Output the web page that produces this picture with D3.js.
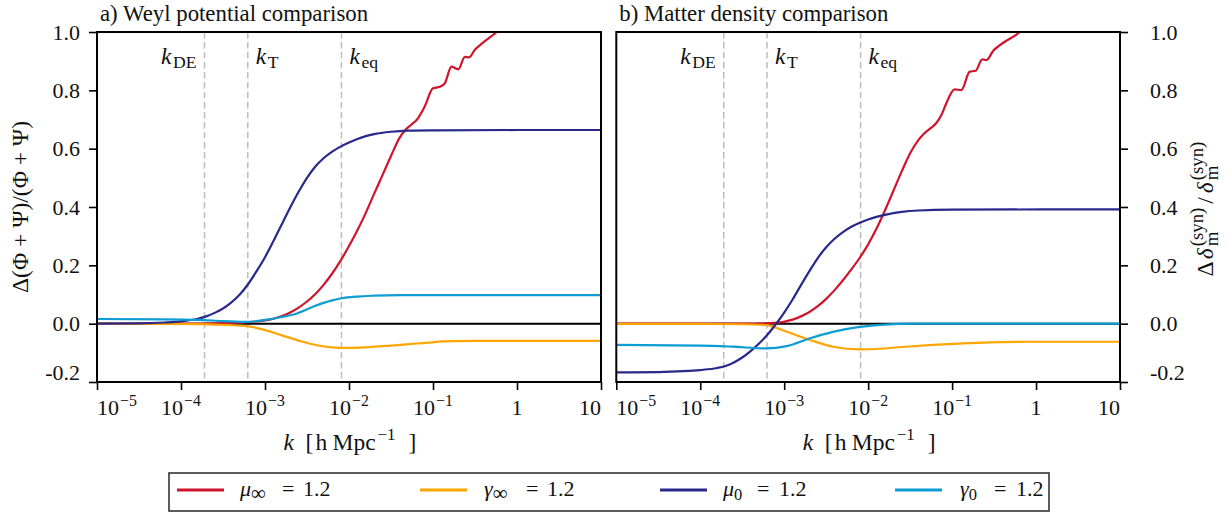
<!DOCTYPE html>
<html><head><meta charset="utf-8">
<script src="https://cdn.jsdelivr.net/npm/d3@7"></script>
<style>
html,body{margin:0;padding:0;background:#fff;}
svg{display:block;}
</style></head>
<body>
<svg id="chart" width="1231" height="517"></svg>
<script>
// ---------- data (x given as log10 of k [h/Mpc]) ----------
const xTickExps = [-5, -4, -3, -2, -1, 0, 1];
const yTicks = [-0.2, 0.0, 0.2, 0.4, 0.6, 0.8, 1.0];
const scaleMarks = [{name: "DE", lk: -3.72}, {name: "T", lk: -3.205}, {name: "eq", lk: -2.09}];
const seriesNames = ["μ∞ = 1.2", "γ∞ = 1.2", "μ0 = 1.2", "γ0 = 1.2"];
const seriesColors = ["#d0142c", "#ffa500", "#28298c", "#0b9dd3"];

// Panel a) Weyl potential
const weylMuInfLk = [-5, -4, -3.5, -3.2, -3.0, -2.9, -2.8, -2.7, -2.6, -2.5, -2.4, -2.3, -2.2, -2.1, -2.0, -1.9, -1.8, -1.7, -1.6, -1.5, -1.4, -1.33, -1.26, -1.19, -1.1, -1.0, -0.92, -0.86, -0.78, -0.7, -0.62, -0.57, -0.5, -0.44, -0.24, 0, 0.5, 1];
const weylMuInf = [0, 0, 0.002, 0.005, 0.011, 0.017, 0.026, 0.038, 0.055, 0.076, 0.102, 0.134, 0.172, 0.216, 0.266, 0.32, 0.38, 0.446, 0.51, 0.575, 0.636, 0.664, 0.682, 0.7, 0.744, 0.807, 0.812, 0.824, 0.881, 0.872, 0.915, 0.913, 0.94, 0.955, 1.0, 1.06, 1.15, 1.25];
const weylGamInfLk = [-5, -4, -3.6, -3.2, -3.0, -2.8, -2.6, -2.4, -2.2, -2.0, -1.8, -1.5, -1.2, -1.0, -0.9, -0.5, 0, 1];
const weylGamInf = [0, -0.001, -0.003, -0.009, -0.022, -0.04, -0.058, -0.073, -0.081, -0.083, -0.081, -0.075, -0.068, -0.064, -0.061, -0.059, -0.059, -0.059];
const weylMu0Lk = [-5, -4.5, -4.2, -4.0, -3.8, -3.7, -3.6, -3.5, -3.4, -3.3, -3.2, -3.1, -3.0, -2.9, -2.8, -2.7, -2.6, -2.5, -2.4, -2.3, -2.2, -2.1, -2.0, -1.9, -1.8, -1.7, -1.5, -1.3, -1.0, 0, 1];
const weylMu0 = [0, 0.001, 0.004, 0.008, 0.017, 0.025, 0.037, 0.052, 0.073, 0.1, 0.136, 0.18, 0.228, 0.283, 0.341, 0.398, 0.452, 0.5, 0.539, 0.568, 0.59, 0.607, 0.621, 0.633, 0.643, 0.65, 0.658, 0.662, 0.663, 0.664, 0.664];
const weylGam0Lk = [-5, -4.2, -3.8, -3.5, -3.2, -3.02, -2.82, -2.62, -2.43, -2.2, -2.09, -1.9, -1.7, -1.4, -1, 1];
const weylGam0 = [0.016, 0.015, 0.013, 0.009, 0.006, 0.012, 0.022, 0.035, 0.058, 0.08, 0.087, 0.093, 0.096, 0.098, 0.098, 0.098];

// Panel b) Matter density
const matMuInfLk = [-5, -4, -3.5, -3.1, -2.9, -2.8, -2.7, -2.6, -2.5, -2.4, -2.3, -2.2, -2.1, -2.0, -1.9, -1.8, -1.7, -1.6, -1.5, -1.4, -1.35, -1.27, -1.19, -1.12, -1.07, -0.97, -0.89, -0.79, -0.72, -0.64, -0.59, -0.51, -0.43, -0.19, 0, 0.5, 1];
const matMuInf = [0, 0, 0, 0.003, 0.014, 0.025, 0.04, 0.06, 0.085, 0.115, 0.149, 0.186, 0.226, 0.272, 0.326, 0.388, 0.455, 0.522, 0.584, 0.63, 0.647, 0.667, 0.687, 0.72, 0.755, 0.803, 0.801, 0.864, 0.867, 0.906, 0.904, 0.936, 0.955, 1.0, 1.05, 1.14, 1.24];
const matGamInfLk = [-5, -4, -3.5, -3.21, -2.97, -2.69, -2.42, -2.1, -1.86, -1.6, -1.23, -0.8, -0.43, 0, 1];
const matGamInf = [-0.001, -0.001, -0.002, -0.005, -0.028, -0.056, -0.079, -0.088, -0.086, -0.08, -0.073, -0.067, -0.063, -0.062, -0.062];
const matMu0Lk = [-5, -4.5, -4.2, -4.0, -3.8, -3.7, -3.6, -3.5, -3.4, -3.3, -3.2, -3.1, -3.0, -2.9, -2.8, -2.7, -2.6, -2.5, -2.4, -2.3, -2.2, -2.1, -2.0, -1.9, -1.8, -1.6, -1.4, -1, 1];
const matMu0 = [-0.167, -0.166, -0.163, -0.159, -0.152, -0.145, -0.133, -0.116, -0.094, -0.068, -0.038, -0.002, 0.038, 0.083, 0.132, 0.18, 0.225, 0.262, 0.291, 0.314, 0.332, 0.346, 0.357, 0.366, 0.373, 0.383, 0.388, 0.391, 0.392];
const matGam0Lk = [-5, -4, -3.61, -3.21, -2.97, -2.69, -2.42, -2.1, -1.8, -1.5, 1];
const matGam0 = [-0.073, -0.075, -0.079, -0.085, -0.077, -0.05, -0.028, -0.011, -0.003, 0, 0];

// ---------- font selection ----------
function fontAvailable(name) {
  const c = document.createElement("canvas").getContext("2d");
  const s = "abcdefghijklmnopqrstuvwxyz0123456789WMΔΦΨ";
  return ["monospace", "sans-serif"].some(fb => {
    c.font = `40px ${fb}`; const w0 = c.measureText(s).width;
    c.font = `40px "${name}", ${fb}`; const w1 = c.measureText(s).width;
    return Math.abs(w0 - w1) > 0.5;
  });
}
const fontCandidates = ["Liberation Serif", "DejaVu Serif", "Noto Serif", "FreeSerif", "Times New Roman"];
const FONT = fontCandidates.find(fontAvailable) || "serif";
const FN = 22;     // numbers
const FT = 23.5;   // words / symbols

// ---------- layout ----------
const svg = d3.select("#chart").style("font-family", `"${FONT}", serif`);
const yTop = 32, yBot = 382;
const panels = [
  {x0: 97, x1: 601, title: "a) Weyl potential comparison", yAxis: "left",
   series: [[weylMuInfLk, weylMuInf], [weylGamInfLk, weylGamInf], [weylMu0Lk, weylMu0], [weylGam0Lk, weylGam0]]},
  {x0: 616.3, x1: 1120, title: "b) Matter density comparison", yAxis: "right",
   series: [[matMuInfLk, matMuInf], [matGamInfLk, matGamInf], [matMu0Lk, matMu0], [matGam0Lk, matGam0]]}
];
const y = d3.scaleLinear().domain([-0.2, 1.0]).range([yBot, yTop]);

// rich text helper: parts laid out horizontally; {t, s, dy, it, gap, at, stack:[...]}
function rich(parent, x, yb, parts, anchor, baseSize) {
  const g = parent.append("g");
  const inner = g.append("g");
  let cx = 0;
  function put(p, at) {
    const t = inner.append("text").attr("x", at).attr("y", p.dy || 0)
      .attr("font-size", (p.s || 1) * baseSize)
      .attr("font-style", p.it ? "italic" : "normal")
      .attr("fill", "#111")
      .style("white-space", "pre")
      .text(p.t);
    return t.node().getComputedTextLength();
  }
  parts.forEach(p => {
    if (p.at !== undefined) cx = p.at;
    if (p.stack) {
      const w = Math.max(...p.stack.map(q => put(q, cx)));
      cx += w + (p.gap || 0);
    } else {
      cx += put(p, cx) + (p.gap || 0);
    }
  });
  const off = anchor === "middle" ? -cx / 2 : anchor === "end" ? -cx : 0;
  inner.attr("transform", `translate(${off},0)`);
  g.attr("transform", `translate(${x},${yb})`);
  return g;
}

panels.forEach((P, pi) => {
  const x = d3.scaleLog().domain([1e-5, 10]).range([P.x0, P.x1]);
  const g = svg.append("g");
  const clipId = "clip" + pi;
  svg.append("clipPath").attr("id", clipId).append("rect")
    .attr("x", P.x0).attr("y", yTop).attr("width", P.x1 - P.x0).attr("height", yBot - yTop);

  // dashed scale lines
  scaleMarks.forEach(m => {
    const xx = x(Math.pow(10, m.lk));
    g.append("line").attr("x1", xx).attr("x2", xx).attr("y1", yTop).attr("y2", yBot)
      .attr("stroke", "#bdbdbd").attr("stroke-width", 1.5).attr("stroke-dasharray", "6.5,3.5");
    const parts = [{t: "k", it: true, gap: 1.5}, {t: m.name, s: 0.75, dy: 4}];
    if (m.name === "DE") rich(g, xx - 8, 64, parts, "end", FT);
    else rich(g, xx + 8, 64, parts, "start", FT);
  });

  // zero line
  g.append("line").attr("x1", P.x0).attr("x2", P.x1).attr("y1", y(0)).attr("y2", y(0))
    .attr("stroke", "#000").attr("stroke-width", 2);

  // series
  const line = d3.line().x(d => x(Math.pow(10, d[0]))).y(d => y(d[1])).curve(d3.curveMonotoneX);
  const lg = g.append("g").attr("clip-path", `url(#${clipId})`);
  P.series.forEach((s, si) => {
    const pts = s[0].map((lk, i) => [lk, s[1][i]]);
    lg.append("path").attr("d", line(pts)).attr("fill", "none")
      .attr("stroke", seriesColors[si]).attr("stroke-width", 2.2)
      .attr("stroke-linejoin", "round").attr("stroke-linecap", "round");
  });

  // frame
  g.append("rect").attr("x", P.x0).attr("y", yTop).attr("width", P.x1 - P.x0).attr("height", yBot - yTop)
    .attr("fill", "none").attr("stroke", "#000").attr("stroke-width", 2);

  // x axis
  const xa = g.append("g").attr("transform", `translate(0,${yBot})`)
    .call(d3.axisBottom(x).tickValues(xTickExps.map(e => Math.pow(10, e))).tickSize(8).tickFormat(() => ""));
  xa.select(".domain").remove();
  xa.selectAll(".tick line").attr("stroke", "#000").attr("stroke-width", 1.6);
  xa.selectAll(".tick text").remove();
  xTickExps.forEach((e, i) => {
    const xx = x(Math.pow(10, e));
    let parts;
    if (e === 0) parts = [{t: "1"}];
    else if (e === 1) parts = [{t: "10"}];
    else parts = [{t: "10", gap: 1}, {t: "−" + Math.abs(e), s: 0.72, dy: -9}];
    const anchor = i === 0 ? "start" : (i === xTickExps.length - 1 ? "end" : "middle");
    rich(g, xx, 415, parts, anchor, FN);
  });

  // y axis
  const yAxisGen = (P.yAxis === "left" ? d3.axisLeft(y) : d3.axisRight(y))
    .tickValues(yTicks).tickSize(8).tickPadding(8).tickFormat(v => v.toFixed(1));
  const ya = g.append("g").attr("transform", `translate(${P.yAxis === "left" ? P.x0 : P.x1},0)`).call(yAxisGen);
  ya.select(".domain").remove();
  ya.selectAll(".tick line").attr("stroke", "#000").attr("stroke-width", 1.6);
  ya.selectAll(".tick text").attr("font-size", FN).attr("fill", "#111")
    .attr("font-family", `"${FONT}", serif`)
    .attr("dy", d => d < -0.1 ? "-0.1em" : "0.32em");
  if (P.yAxis === "right") ya.selectAll(".tick text").attr("x", 30).attr("text-anchor", "start");
  else ya.selectAll(".tick text").attr("x", -17);

  // title
  g.append("text").attr("x", P.x0 + 3).attr("y", 20.5).attr("font-size", 22.8).attr("fill", "#111").text(P.title);

  // x label
  rich(g, (P.x0 + P.x1) / 2 + 1, 450, [
    {t: "k", it: true}, {t: "[", at: 22}, {t: "h", at: 32}, {t: "Mpc", at: 49},
    {t: "−1", s: 0.72, dy: -10, at: 94}, {t: "]", at: 125}
  ], "middle", FT);
});

// y labels
const ylL = svg.append("g").attr("transform", "translate(28,207) rotate(-90)");
rich(ylL, 0, 0, [{t: "Δ(Φ + Ψ)/(Φ + Ψ)"}], "middle", FT);
const ylR = svg.append("g").attr("transform", "translate(1213,209) rotate(-90)");
rich(ylR, 0, 0, [
  {t: "Δ", gap: 2}, {t: "δ", it: true, gap: 2},
  {stack: [{t: "(syn)", s: 0.8, dy: -10}, {t: "m", s: 0.8, dy: 5}], gap: 4},
  {t: "/", gap: 4}, {t: "δ", it: true, gap: 2},
  {stack: [{t: "(syn)", s: 0.8, dy: -10}, {t: "m", s: 0.8, dy: 5}]}
], "middle", FT);

// legend
const leg = svg.append("g");
leg.append("rect").attr("x", 169).attr("y", 473).attr("width", 880).attr("height", 38)
  .attr("fill", "#fff").attr("stroke", "#333").attr("stroke-width", 1.6);
const legLineX = [177, 420, 660, 895];
const legTextX = [240, 484, 723, 960];
const legParts = [
  [{t: "μ", it: true}, {t: "∞", s: 0.95, dy: 4}, {t: "=", at: 42}, {t: "1.2", at: 63}],
  [{t: "γ", it: true}, {t: "∞", s: 0.95, dy: 4}, {t: "=", at: 42}, {t: "1.2", at: 63}],
  [{t: "μ", it: true}, {t: "0", s: 0.75, dy: 4}, {t: "=", at: 34}, {t: "1.2", at: 56}],
  [{t: "γ", it: true}, {t: "0", s: 0.75, dy: 4}, {t: "=", at: 34}, {t: "1.2", at: 56}]
];
seriesNames.forEach((name, i) => {
  leg.append("line").attr("x1", legLineX[i]).attr("x2", legLineX[i] + 47).attr("y1", 490).attr("y2", 490)
    .attr("stroke", seriesColors[i]).attr("stroke-width", 3.2);
  const t = rich(leg, legTextX[i], 496, legParts[i], "start", FN);
  t.append("title").text(name);
});
</script>
</body></html>
